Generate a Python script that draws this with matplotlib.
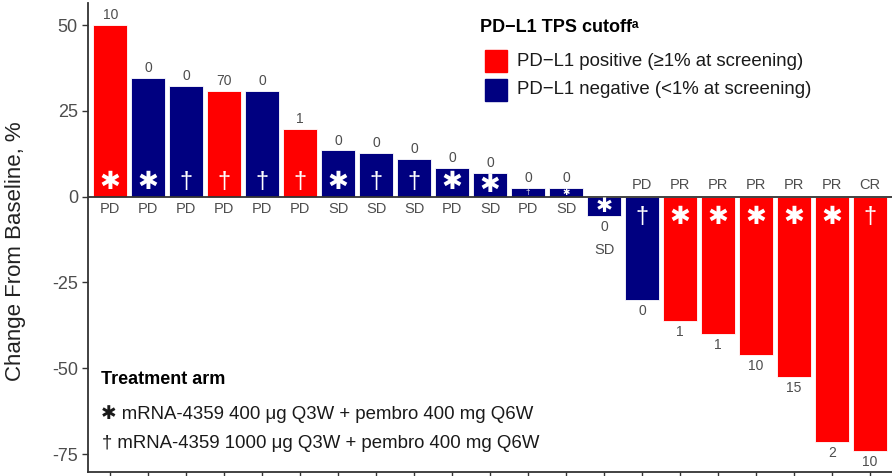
import matplotlib
matplotlib.use("Agg")
import matplotlib.pyplot as plt
from matplotlib.patches import Rectangle

plt.rcParams["font.family"] = ["Liberation Sans", "DejaVu Sans"]

# best overall change from baseline (%) per patient, sorted
change = [50.0, 34.6, 32.3, 30.9, 30.8, 19.7, 13.5, 12.7, 11.0, 8.5, 6.9, 2.5, 2.5,
          -5.7, -30.2, -36.2, -39.9, -46.1, -52.5, -71.4, -74.2]
tps = ["10", "0", "0", "70", "0", "1", "0", "0", "0", "0", "0", "0", "0",
       "0", "0", "1", "1", "10", "15", "2", "10"]
response = ["PD", "PD", "PD", "PD", "PD", "PD", "SD", "SD", "SD", "PD", "SD", "PD", "SD",
            "SD", "PD", "PR", "PR", "PR", "PR", "PR", "CR"]
pdl1_pos = [1, 0, 0, 1, 0, 1, 0, 0, 0, 0, 0, 0, 0,
            0, 0, 1, 1, 1, 1, 1, 1]
arm = ["*", "*", "d", "d", "d", "d", "*", "d", "d", "*", "*", "d", "*",
       "*", "d", "*", "*", "*", "*", "*", "d"]

RED = "#FF0000"
NAVY = "#000080"
GREY = "#4D4D4D"

fig = plt.figure(figsize=(8.92, 4.76), dpi=100)
ax = fig.add_axes([0.099, 0.008, 0.901, 0.986])

x = list(range(len(change)))
colors = [RED if p else NAVY for p in pdl1_pos]
ax.bar(x, change, width=0.89, color=colors, edgecolor="white", linewidth=0.6, zorder=2)
ax.axhline(0, color="#333333", linewidth=1.3, zorder=3)

for i, v in enumerate(change):
    # treatment-arm symbol inside the bar
    scale = min(1.0, abs(v) / 7)
    if v > 0:
        sy = min(4.4, v / 2)
    else:
        sy = max(-6.0, v / 2)
    if arm[i] == "*":
        ax.text(i, sy, "\u2731", color="white", ha="center", va="center",
                fontsize=max(4, 18 * scale), family="DejaVu Sans", zorder=4)
    else:
        ax.text(i, sy, "\u2020", color="white", ha="center", va="center",
                fontsize=max(4, 17 * scale), zorder=4)

    if v > 0:
        ax.text(i, v + 0.8, tps[i], color=GREY, ha="center", va="bottom", fontsize=10)
        ax.text(i, -1.6, response[i], color=GREY, ha="center", va="top", fontsize=10.5)
    elif v > -10:
        ax.text(i, v - 1.2, tps[i], color=GREY, ha="center", va="top", fontsize=10)
        ax.text(i, v - 7.8, response[i], color=GREY, ha="center", va="top", fontsize=10.5)
    else:
        ax.text(i, v - 1.2, tps[i], color=GREY, ha="center", va="top", fontsize=10)
        ax.text(i, 1.4, response[i], color=GREY, ha="center", va="bottom", fontsize=10.5)

ax.set_xlim(-0.58, len(change) - 0.42)
ax.set_ylim(-80.3, 56.5)
ax.set_yticks([-75, -50, -25, 0, 25, 50])
ax.set_yticklabels(["-75", "-50", "-25", "0", "25", "50"])
ax.set_xticks(x)
ax.set_xticklabels([])
ax.tick_params(axis="both", colors="#333333", labelcolor=GREY, labelsize=13,
               length=4, width=1)
ax.set_ylabel("Change From Baseline, %", fontsize=16, color="#222222")
ax.yaxis.set_label_coords(-0.078, 0.471)
for side in ["top", "right"]:
    ax.spines[side].set_visible(False)
for side in ["left", "bottom"]:
    ax.spines[side].set_color("#333333")
    ax.spines[side].set_linewidth(1.3)

# PD-L1 legend (top right)
fig.text(480 / 892, 1 - 27 / 476, "PD\u2212L1 TPS cutoff\u1d43", fontsize=13,
         fontweight="bold", va="center", ha="left")
leg_items = [(RED, "PD\u2212L1 positive (\u22651% at screening)", 61),
             (NAVY, "PD\u2212L1 negative (<1% at screening)", 90)]
for col, label, py in leg_items:
    fig.patches.append(Rectangle((485 / 892, 1 - (py + 11) / 476), 22 / 892, 22 / 476,
                                 transform=fig.transFigure, color=col))
    fig.text(517 / 892, 1 - py / 476, label, fontsize=13.4, va="center", ha="left",
             color="#1a1a1a")

# treatment arm legend (bottom left)
fig.text(101 / 892, 1 - 379 / 476, "Treatment arm", fontsize=13, fontweight="bold",
         va="center", ha="left")
fig.text(101 / 892, 1 - 414 / 476,
         "\u2731 mRNA-4359 400 \u03bcg Q3W + pembro 400 mg Q6W",
         fontsize=13.4, va="center", ha="left", color="#1a1a1a")
fig.text(102 / 892, 1 - 444 / 476,
         "\u2020 mRNA-4359 1000 \u03bcg Q3W + pembro 400 mg Q6W",
         fontsize=13.4, va="center", ha="left", color="#1a1a1a")

fig.savefig("out.png", dpi=100)
